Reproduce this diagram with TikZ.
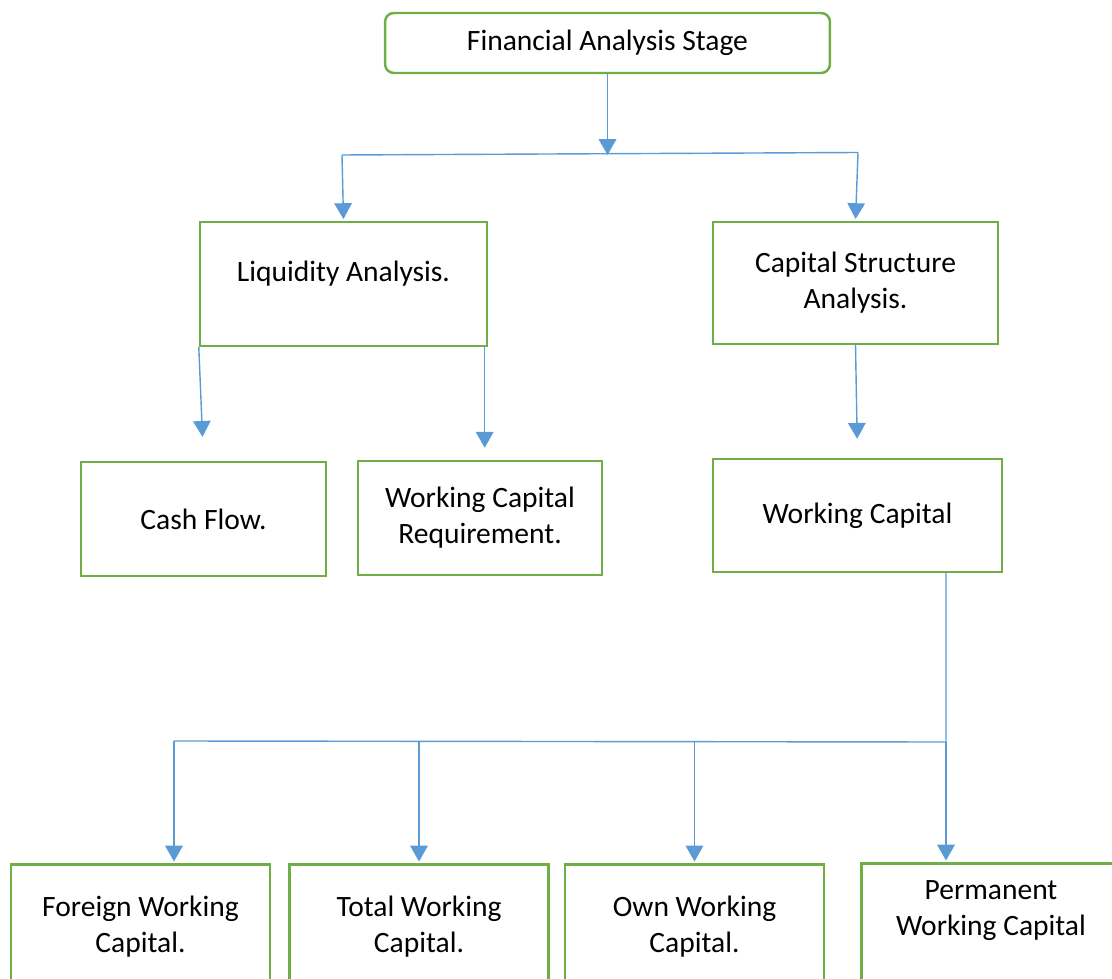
\documentclass[tikz,border=0pt]{standalone}
\usepackage{fontspec}
\setmainfont{Carlito}
\usetikzlibrary{arrows.meta}
\definecolor{boxgreen}{HTML}{70AD47}
\definecolor{lineblue}{HTML}{5B9BD5}

\begin{document}
\begin{tikzpicture}[x=0.02cm,y=-0.02cm,
	    box/.style={draw=boxgreen,line width=1.4pt,align=center,inner sep=0pt,font=\fontsize{16.8}{20.5}\selectfont},
	    bus/.style={draw=lineblue,line width=0.8pt},
	    arr/.style={bus,-{Triangle[width=10pt,length=9pt]}}]
	    \useasboundingbox(0,0)rectangle(1112,979);

	    % boxes
	    \node[box,rounded corners=5pt,minimum width=8.9cm,minimum height=1.2cm](stage)at(607.5,43){Financial Analysis Stage};

	    \node[box,text depth=14pt,minimum width=5.74cm,minimum height=2.48cm](liq)at(343.5,284){Liquidity Analysis.};
	    \node[box,minimum width=5.7cm,minimum height=2.44cm](cap)at(855.5,283){Capital Structure\\Analysis.};

	    \node[box,minimum width=4.9cm,minimum height=2.28cm](cash)at(203.5,519){Cash Flow.};
	    \node[box,minimum width=4.88cm,minimum height=2.28cm](wcr)at(480,518){Working Capital\\Requirement.};
	    \node[box,minimum width=5.78cm,minimum height=2.26cm](wc)at(857.5,515.5){Working Capital};

	    \node[box,minimum width=5.18cm,minimum height=2.5cm](fwc)at(140.5,927){Foreign Working\\Capital.};
	    \node[box,minimum width=5.18cm,minimum height=2.5cm](twc)at(419,927){Total Working\\Capital.};
	    \node[box,minimum width=5.18cm,minimum height=2.5cm](owc)at(694.5,927){Own Working\\Capital.};
	    \node[box,text depth=20pt,minimum width=5.18cm,minimum height=2.5cm](pwc)at(991,926){Permanent\\Working Capital};

	    % first split
	    \coordinate(A)at(342,155);
	    \coordinate(B)at(858,152.5);
	    \draw[arr](stage.south)--(stage.south |- A);
	    \draw[bus](A)--(B);
	    \draw[arr,shorten >=1pt](A)--(liq.north);
	    \draw[arr,shorten >=1pt](B)--(cap.north);

	    % second level
	    \draw[arr,shorten >=0.48cm](liq.south west)--(cash.north);
	    \draw[arr,shorten >=0.24cm]([xshift=-2pt]liq.south east)--([xshift=-2pt]liq.south east |- wcr.north);
	    \draw[arr,shorten >=0.38cm](cap.south)--(wc.north);

	    % working capital bus
	    \coordinate(L)at(174,741);
	    \coordinate(R)at(946,742);
	    \draw[bus](wc.south -| R)--(R)--(L);
	    \draw[arr,shorten >=1pt](L)--(L |- fwc.north);
	    \draw[arr,shorten >=1pt](twc.north |- L)--(twc.north);
	    \draw[arr,shorten >=1pt](owc.north |- L)--(owc.north);
	    \draw[arr,shorten >=1pt](R)--(R |- pwc.north);
\end{tikzpicture}
\end{document}
